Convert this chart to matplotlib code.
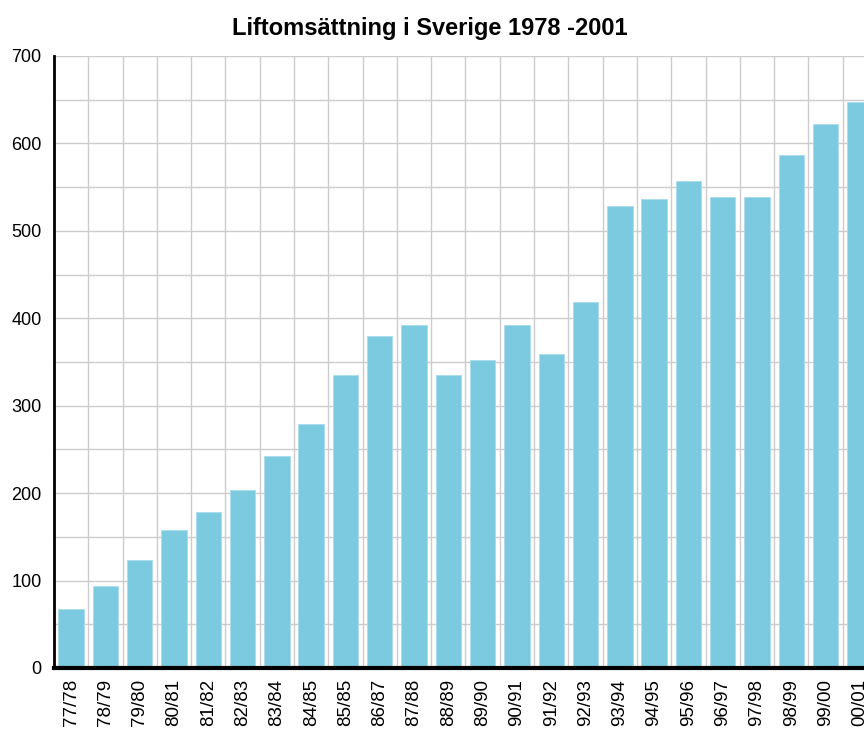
import matplotlib
matplotlib.use("Agg")
import matplotlib.pyplot as plt
import numpy as np

categories = ["77/78", "78/79", "79/80", "80/81", "81/82", "82/83", "83/84", "84/85",
              "85/85", "86/87", "87/88", "88/89", "89/90", "90/91", "91/92", "92/93",
              "93/94", "94/95", "95/96", "96/97", "97/98", "98/99", "99/00", "00/01"]
values = [68, 94, 123, 158, 178, 204, 243, 279, 335, 380, 392, 335, 352, 392, 359, 419,
          529, 537, 557, 539, 539, 587, 622, 647]
yticks = [0, 100, 200, 300, 400, 500, 600, 700]
title = "Liftomsättning i Sverige 1978 -2001"

plt.rcParams['font.family'] = ['Liberation Sans', 'DejaVu Sans']

W, H = 864, 734
fig = plt.figure(figsize=(W / 100, H / 100), dpi=100)
left_px, right_px, top_px, bot_px = 54, 877, 56, 668
ax = fig.add_axes([left_px / W, 1 - bot_px / H, (right_px - left_px) / W, (bot_px - top_px) / H])

x = np.arange(len(categories))
ax.bar(x, values, width=0.74, color="#7bcae0", edgecolor="#a9dcec", linewidth=0.6, zorder=2)

ax.set_xlim(-0.5, len(categories) - 0.5)
ax.set_ylim(0, 700)
ax.set_yticks(yticks)
ax.set_yticklabels([str(v) for v in yticks], fontsize=13)
ax.set_yticks(np.arange(50, 700, 100), minor=True)
ax.set_xticks(x)
ax.set_xticklabels(categories, rotation=90, fontsize=13.5)
ax.set_xticks(np.arange(0.5, len(categories) - 0.5, 1), minor=True)

ax.grid(True, which="both", axis="both", color="#cccccc", linewidth=1.0, zorder=0)
ax.grid(False, which="major", axis="x")
ax.set_axisbelow(True)
ax.tick_params(which="both", length=0)
ax.tick_params(axis="y", pad=9)
ax.tick_params(axis="x", pad=8)

for s in ["top", "right"]:
    ax.spines[s].set_visible(False)
ax.spines["left"].set_linewidth(2.0)
ax.spines["bottom"].set_linewidth(3.0)
ax.spines["left"].set_zorder(3)
ax.spines["bottom"].set_zorder(3)

fig.text(430 / W, 1 - 28 / H, title, ha="center", va="center", fontsize=17, fontweight="bold")

fig.savefig("out.png", dpi=100)
